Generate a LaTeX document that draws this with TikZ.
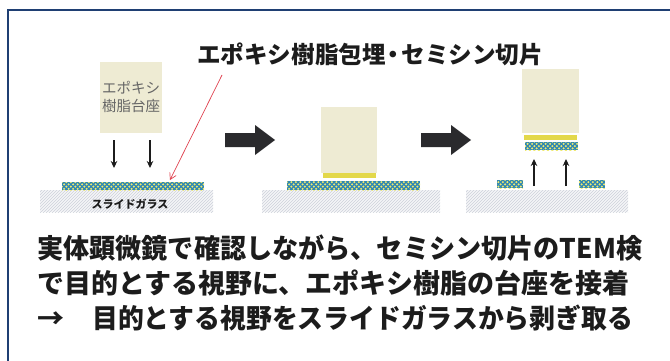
\documentclass[tikz,border=0pt]{standalone}
\usepackage{fontspec}
\newfontfamily\jpfont{Noto Sans CJK JP}
\usetikzlibrary{patterns,arrows.meta}

\definecolor{frameblue}{HTML}{1F3F73}
\definecolor{resin}{HTML}{EEEBD3}
\definecolor{bond}{HTML}{E3D84A}
\definecolor{secblue}{HTML}{2E86B4}
\definecolor{secdot}{HTML}{EFEA6E}
\definecolor{glassfill}{HTML}{F5F6F8}
\definecolor{glassline}{HTML}{CDD1DA}
\definecolor{ink}{HTML}{1C1C1C}
\definecolor{bigarrow}{HTML}{2A2A2D}
\definecolor{pointer}{HTML}{E0404E}

% yellow grains inside the semithin section
\pgfdeclarepatternformonly{sectiondots}{\pgfqpoint{-1.5pt}{-1.5pt}}{\pgfqpoint{6pt}{6pt}}{\pgfqpoint{4.5pt}{4.5pt}}{%
  \pgfpathcircle{\pgfqpoint{1.1pt}{1.1pt}}{1.15pt}%
  \pgfpathcircle{\pgfqpoint{3.35pt}{3.35pt}}{1.15pt}%
  \pgfusepath{fill}}

\begin{document}
\begin{tikzpicture}[x=1pt,y=-1pt,
  frameline/.style={draw=frameblue,line width=2pt},
  block/.style={fill=resin,draw=none,inner sep=0pt},
  bondlayer/.style={fill=bond,draw=none,inner sep=0pt},
  section/.style={fill=secblue,draw=none,inner sep=0pt,
    postaction={pattern=sectiondots,pattern color=secdot}},
  glass/.style={fill=glassfill,draw=none,inner sep=0pt,
    postaction={pattern=north east lines,pattern color=glassline}},
  thinarrow/.style={draw=ink,line width=1.3pt,-{Stealth[length=7pt,width=6.5pt]}},
  pointerarrow/.style={draw=pointer,line width=0.7pt,-{Straight Barb[length=6pt,width=7pt]}},
  stepshape/.style={fill=bigarrow,draw=none},
  heading/.style={font=\jpfont\bfseries\fontsize{23.6}{27}\selectfont,text=ink,inner sep=0pt},
  bodyline/.style={font=\jpfont\bfseries\fontsize{27}{32}\selectfont,text=ink,inner sep=0pt,anchor=west},
  baselabel/.style={font=\jpfont\fontsize{14.5}{18.5}\selectfont,text=black!60,align=center},
  glasslabel/.style={font=\jpfont\bfseries\fontsize{11}{12}\selectfont,text=ink,inner sep=0pt}
]
\useasboundingbox[fill=white] (0,0) rectangle (670,361);

% open frame: top and left edges
\draw[frameline] (8,361) -- (8,10) -- (670,10);

% heading
\node[heading] (title) at (370,54) {エポキシ樹脂包埋\hspace{-4pt}・\hspace{-4pt}セミシン切片};

% ---- stage 1: resin base above the section on the slide
\node[glass,minimum width=173,minimum height=22] (glass1) at (126.5,201) {};
\node[section,minimum width=142,minimum height=8] (sec1) at (133,186) {};
\node[block,minimum width=62,minimum height=71] (base1) at (131,97.5) {};
\node[baselabel] (baselbl) at (131,97) {エポキシ\\樹脂台座};
\node[glasslabel] (glasslbl) at (130,204) {スライドガラス};

\coordinate (d1s) at (114,140);
\coordinate (d1e) at (114,168);
\coordinate (d2s) at (150,140);
\coordinate (d2e) at (150,168);
\draw[thinarrow] (d1s) -- (d1e);
\draw[thinarrow] (d2s) -- (d2e);

\coordinate (ptr) at (222,75);
\coordinate (ptrend) at (170,180);
\draw[pointerarrow] (ptr) -- (ptrend);

% step arrow 1
\fill[stepshape] (225,133) -- (255,133) -- (255,125) -- (275,140) -- (255,155) -- (255,147) -- (225,147) -- cycle;

% ---- stage 2: base bonded on the section
\node[glass,minimum width=178,minimum height=22] (glass2) at (351,201) {};
\node[section,minimum width=133,minimum height=9] (sec2) at (353.5,185.5) {};
\node[block,minimum width=56,minimum height=66] (base2) at (349,140) {};
\node[bondlayer,minimum width=53,minimum height=5] (bond2) at (349.5,175.5) {};

% step arrow 2
\fill[stepshape] (421,133) -- (451,133) -- (451,125) -- (471,140) -- (451,155) -- (451,147) -- (421,147) -- cycle;

% ---- stage 3: base lifted with the target field
\node[glass,minimum width=162,minimum height=22] (glass3) at (547,201) {};
\node[section,minimum width=26,minimum height=8] (rest1) at (510,184) {};
\node[section,minimum width=26,minimum height=8] (rest2) at (592,184) {};
\node[block,minimum width=57,minimum height=64] (base3) at (550.5,101) {};
\node[bondlayer,minimum width=53,minimum height=5] (bond3) at (550.5,137.5) {};
\node[section,minimum width=53,minimum height=8] (sec3) at (551.5,146) {};

\coordinate (u1s) at (534,186);
\coordinate (u1e) at (534,159);
\coordinate (u2s) at (566,186);
\coordinate (u2e) at (566,159);
\draw[thinarrow] (u1s) -- (u1e);
\draw[thinarrow] (u2s) -- (u2e);

% explanatory text
\node[bodyline] (line1) at (37,248) {\scalebox{0.968}[1]{実体顕微鏡で確認しながら、セミシン切片のTEM検}};
\node[bodyline] (line2) at (37,283) {で目的とする視野に、エポキシ樹脂の台座を接着};
\node[bodyline] (line3) at (37,318) {→\hspace{28pt}\scalebox{0.956}[1]{目的とする視野をスライドガラスから剥ぎ取る}};
\end{tikzpicture}
\end{document}
